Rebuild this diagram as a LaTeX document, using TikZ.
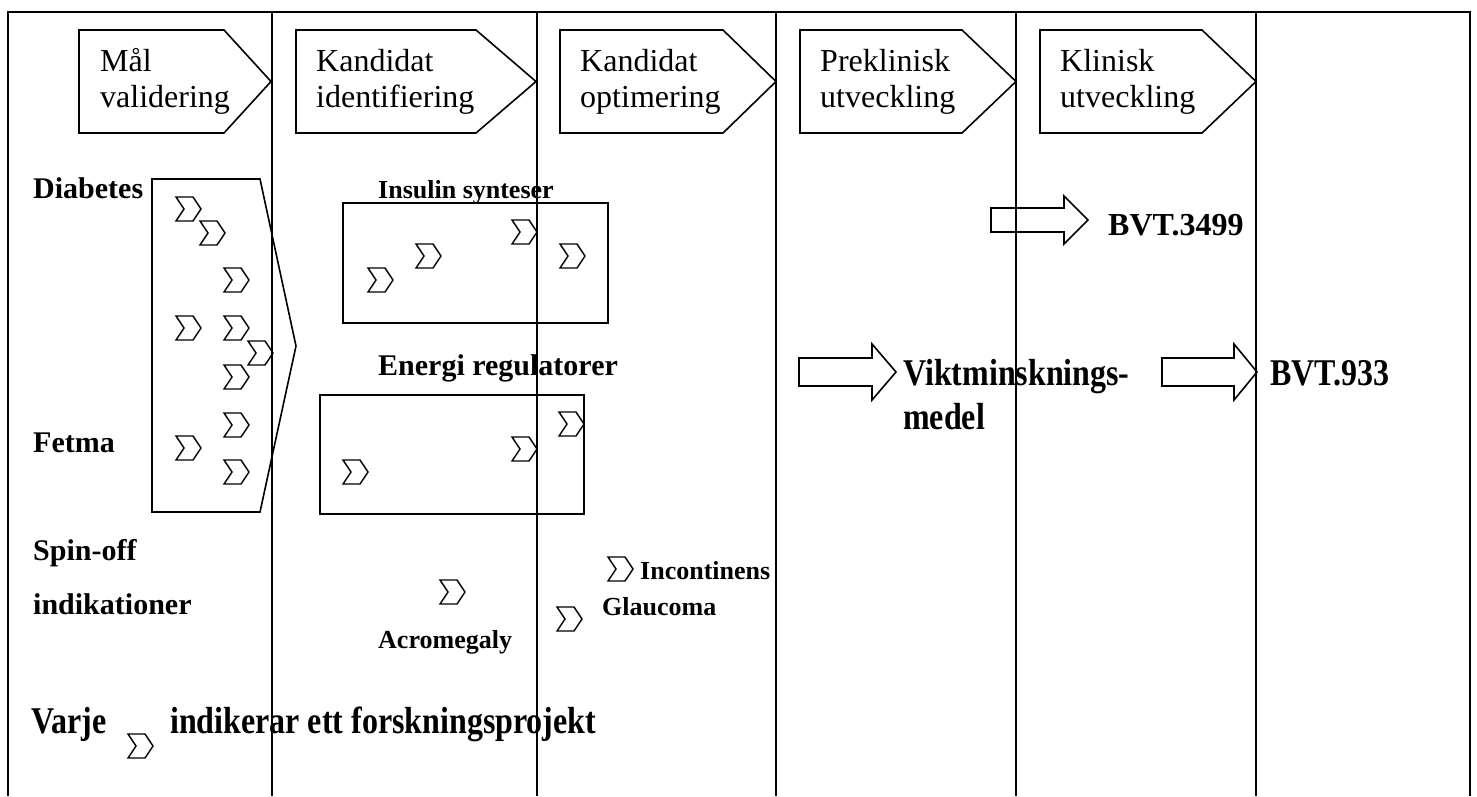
\documentclass[tikz,border=0pt]{standalone}
\usepackage{fontspec}
\setmainfont{Liberation Serif}
\newcommand{\tallbold}[1]{\scalebox{1}[1.18]{#1}}
\begin{document}
\begin{tikzpicture}[x=1pt,y=-1pt,
  frame/.style={line width=2pt},
  outline/.style={line width=1.6pt, line join=miter},
  chev/.style={line width=1.4pt, line join=miter},
  hdr/.style={anchor=base west, inner sep=0, font=\fontsize{32}{36}\selectfont},
  lbl/.style={anchor=base west, inner sep=0, font=\fontsize{30}{34}\selectfont\bfseries},
  big/.style={anchor=base west, inner sep=0, font=\fontsize{32}{36}\selectfont\bfseries},
  small/.style={anchor=base west, inner sep=0, font=\fontsize{26}{30}\selectfont\bfseries},
  pics/proj/.style={code={\draw[chev] (0,0) -- (17,0) -- (25,12) -- (17,24) -- (0,24) -- (8,12) -- cycle;}}
]
\useasboundingbox (0,0) rectangle (1477,796);

% swimlane frame
\draw[frame] (8,796) -- (8,12) -- (1470,12) -- (1470,796);
\foreach \x in {272,537,776,1016,1256}
  \draw[frame] (\x,12) -- (\x,796);

% phase headers
\foreach \L/\S/\T in {79/224/271, 296/476/536, 560/723/776, 800/962/1016, 1040/1202/1256}
  \draw[outline] (\L,30) -- (\S,30) -- (\T,81.5) -- (\S,133) -- (\L,133) -- cycle;
\node[hdr] (h1a) at (100,71)  {Mål};
\node[hdr] (h1b) at (100,107) {validering};
\node[hdr] (h2a) at (316,71)  {Kandidat};
\node[hdr] (h2b) at (316,107) {identifiering};
\node[hdr] (h3a) at (580,71)  {Kandidat};
\node[hdr] (h3b) at (580,107) {optimering};
\node[hdr] (h4a) at (820,71)  {Preklinisk};
\node[hdr] (h4b) at (820,107) {utveckling};
\node[hdr] (h5a) at (1060,71) {Klinisk};
\node[hdr] (h5b) at (1060,107) {utveckling};

% target validation block
\draw[outline] (152,179) -- (260,179) -- (296,346) -- (260,512) -- (152,512) -- cycle;
\foreach \p in {(176,197),(200,221),(224,268),(176,316),(224,316),(248,341),(224,365),(224,413),(176,436),(224,460)}
  \pic at \p {proj};

% row labels
\node[lbl] (diab) at (33,198) {Diabetes};
\node[lbl] (fetma) at (33,452) {Fetma};
\node[lbl] (spin) at (33,560) {Spin-off};
\node[lbl] (indik) at (33,614) {indikationer};

% insulin synthesis group
\node[small] (ins) at (378,198) {Insulin synteser};
\draw[outline] (343,203) rectangle (608,323);
\foreach \p in {(368,268),(416,244),(512,220),(560,244)}
  \pic at \p {proj};

% energy regulator group
\node[lbl] (energi) at (378,375) {Energi regulatorer};
\draw[outline] (320,395) rectangle (584,514);
\foreach \p in {(343,460),(512,437),(559,412)}
  \pic at \p {proj};

% spin-off projects
\pic at (440,580) {proj};
\pic at (608,557) {proj};
\pic at (557,607) {proj};
\node[small] (incont) at (640,579) {Incontinens};
\node[small] (glauc) at (602,615) {Glaucoma};
\node[small] (acro) at (378,648) {Acromegaly};

% candidates in development
\draw[outline] (991,208) -- (1064,208) -- (1064,196) -- (1088,220) -- (1064,244) -- (1064,232) -- (991,232) -- cycle;
\node[big] (bvt3499) at (1108,235) {BVT.3499};
\draw[outline] (799,358) -- (872,358) -- (872,344) -- (896,372) -- (872,400) -- (872,386) -- (799,386) -- cycle;
\node[big] (vikt1) at (903,385) {\tallbold{Viktminsknings-}};
\node[big] (vikt2) at (903,429) {\tallbold{medel}};
\draw[outline] (1162,358) -- (1234,358) -- (1234,344) -- (1257,372) -- (1234,400) -- (1234,386) -- (1162,386) -- cycle;
\node[big] (bvt933) at (1270,385) {\tallbold{BVT.933}};

% legend
\node[big] (varje) at (31,733) {\tallbold{Varje}};
\pic at (128,734) {proj};
\node[big] (legend) at (170,733) {\tallbold{indikerar ett forskningsprojekt}};
\end{tikzpicture}
\end{document}
